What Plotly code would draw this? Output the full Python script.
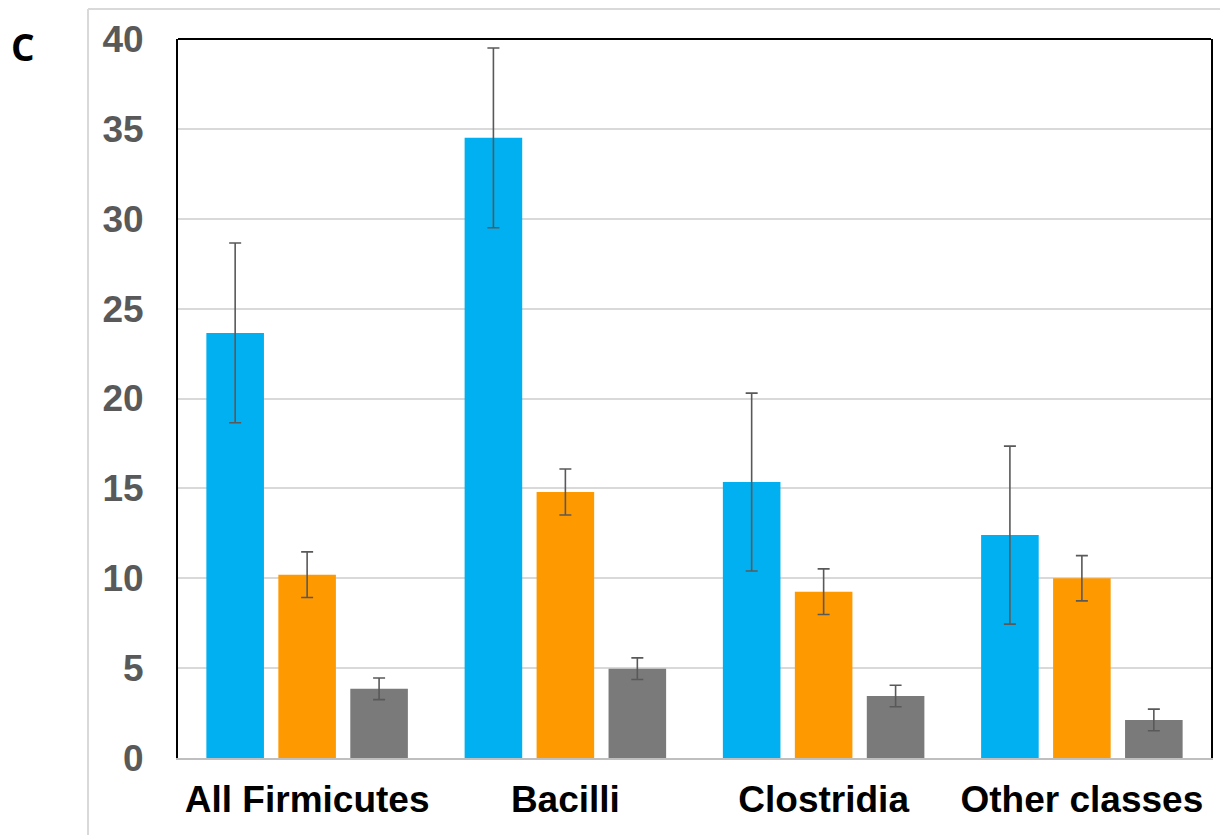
import plotly.graph_objects as go

categories = ["All Firmicutes", "Bacilli", "Clostridia", "Other classes"]
blue_vals = [23.65, 34.5, 15.35, 12.4]
blue_err = [5.0, 5.0, 4.95, 4.95]
orange_vals = [10.2, 14.8, 9.25, 10.0]
orange_err = [1.27, 1.28, 1.27, 1.26]
gray_vals = [3.85, 4.97, 3.45, 2.12]
gray_err = [0.6, 0.6, 0.6, 0.6]
y_ticks = [0, 5, 10, 15, 20, 25, 30, 35, 40]

series = [
    (blue_vals, blue_err, "#00B0F0"),
    (orange_vals, orange_err, "#FF9900"),
    (gray_vals, gray_err, "#7A7A7A"),
]

fig = go.Figure()
for vals, errs, col in series:
    fig.add_trace(go.Bar(
        x=categories, y=vals, marker=dict(color=col, line=dict(width=0)),
        error_y=dict(type="data", array=errs, visible=True, color="#595959", thickness=1.6, width=6),
        showlegend=False,
    ))

fig.update_layout(
    width=1220, height=827,
    margin=dict(l=170, r=17, t=31, b=77),
    paper_bgcolor="white", plot_bgcolor="white",
    barmode="group", bargap=0.164, bargroupgap=0.2,
    font=dict(family="Liberation Sans, Arial, sans-serif"),
)
fig.update_yaxes(
    range=[0, 40], tickvals=y_ticks, ticktext=[str(v) for v in y_ticks],
    showgrid=True, gridcolor="#D9D9D9", gridwidth=2,
    showline=True, linecolor="black", linewidth=2, mirror=True,
    zeroline=False, ticks="", ticklabelstandoff=25, automargin=False,
    tickfont=dict(size=37, color="#595959", family="Liberation Sans, Arial, sans-serif", weight="bold"),
)
fig.update_xaxes(
    showline=True, linecolor="#BFBFBF", linewidth=2, mirror=False,
    ticks="", ticklabelstandoff=8, automargin=False,
    tickfont=dict(size=37, color="black", family="Liberation Sans, Arial, sans-serif", weight="bold"),
)
# top frame line
fig.add_shape(type="line", xref="paper", yref="paper", x0=0, x1=1, y0=1, y1=1,
              line=dict(color="black", width=2))
# outer light gray border
fig.add_shape(type="line", xref="paper", yref="paper", x0=-0.0871, x1=1.02, y0=1.0417, y1=1.0417,
              line=dict(color="#D9D9D9", width=2))
fig.add_shape(type="line", xref="paper", yref="paper", x0=-0.0871, x1=-0.0871, y0=1.0417, y1=-0.11,
              line=dict(color="#D9D9D9", width=2))
fig.add_annotation(text="C", xref="paper", yref="paper", x=-0.164, y=0.989,
                   xanchor="left", yanchor="middle", showarrow=False,
                   font=dict(size=37, color="black", family="Open Sans, sans-serif", weight="bold"))

fig.write_html("out.html")
